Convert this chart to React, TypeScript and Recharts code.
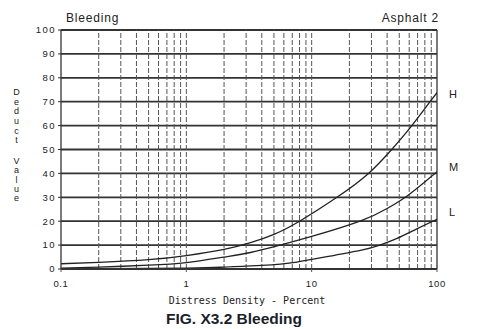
import React from 'react';
import { LineChart, Line, XAxis, YAxis, CartesianGrid, ReferenceLine } from 'recharts';

// Deduct value curves per severity level, density in percent (log axis)
const highCurve = [
  { x: 0.1, y: 2.2 },
  { x: 0.2, y: 2.8 },
  { x: 0.5, y: 3.9 },
  { x: 1, y: 5.6 },
  { x: 2, y: 8.2 },
  { x: 3.25, y: 11 },
  { x: 5, y: 14.5 },
  { x: 8, y: 20 },
  { x: 15.9, y: 30 },
  { x: 28.4, y: 40 },
  { x: 43.5, y: 50 },
  { x: 63, y: 60 },
  { x: 88, y: 70 },
  { x: 100, y: 73.8 },
];

const mediumCurve = [
  { x: 0.1, y: 0.4 },
  { x: 0.2, y: 0.8 },
  { x: 0.5, y: 1.6 },
  { x: 1, y: 2.7 },
  { x: 2, y: 5.0 },
  { x: 3.25, y: 6.9 },
  { x: 5.6, y: 10 },
  { x: 10, y: 13.6 },
  { x: 24.3, y: 20 },
  { x: 40, y: 25.3 },
  { x: 60, y: 31.2 },
  { x: 100, y: 40.7 },
];

const lowCurve = [
  { x: 0.1, y: 0.05 },
  { x: 1, y: 0.4 },
  { x: 2, y: 0.8 },
  { x: 4, y: 1.5 },
  { x: 7.6, y: 2.9 },
  { x: 14, y: 5.4 },
  { x: 25, y: 7.9 },
  { x: 35, y: 10 },
  { x: 48, y: 12.8 },
  { x: 69, y: 16.8 },
  { x: 100, y: 20.8 },
];

const xTicks = [0.1, 1, 10, 100];
const yTicks = [0, 10, 20, 30, 40, 50, 60, 70, 80, 90, 100];
// log-cycle rulings between the decades
const minorX = [
  0.2, 0.3, 0.4, 0.5, 0.6, 0.7, 0.8, 0.9, 1,
  2, 3, 4, 5, 6, 7, 8, 9, 10,
  20, 30, 40, 50, 60, 70, 80, 90,
];

const SANS = '"Liberation Sans", Arial, sans-serif';
const INK = '#222';

const series = [
  { name: 'H', data: highCurve, dy: 2 },
  { name: 'M', data: mediumCurve, dy: -4 },
  { name: 'L', data: lowCurve, dy: -6 },
];

// letter placed beside the last point of each curve
const endLabel = (name: string, count: number, dy: number) => (props: any) => {
  if (props.index !== count - 1) return null;
  return (
    <text x={props.x + 12} y={props.y + dy} dominantBaseline="middle" fontSize={11} fontFamily={SANS} fill={INK}>
      {name}
    </text>
  );
};

// stacked upright letters for the y axis title
const stacked = (top: number, spacing: number): React.CSSProperties => ({
  position: 'absolute',
  left: 11.5,
  top,
  writingMode: 'vertical-rl',
  textOrientation: 'upright',
  fontSize: 9,
  lineHeight: 1,
  letterSpacing: spacing,
  fontFamily: SANS,
  color: INK,
});

export default function App() {
  return (
    <div style={{ position: 'fixed', left: 0, top: 0, width: 493, height: 329, background: '#fff' }}>
      <LineChart width={493} height={329} data={highCurve} margin={{ top: 30, right: 56, bottom: 30, left: 0 }}>
        <CartesianGrid vertical={false} stroke="#333" strokeWidth={1.8} />
        {minorX.map((v) => (
          <ReferenceLine key={v} x={v} stroke="#555" strokeWidth={1} strokeDasharray="5 2" />
        ))}
        <ReferenceLine x={100} stroke="#333" strokeWidth={1.3} />
        <XAxis
          dataKey="x"
          type="number"
          scale="log"
          domain={[0.1, 100]}
          ticks={xTicks}
          allowDataOverflow
          height={30}
          tickSize={3}
          tickMargin={8}
          axisLine={{ stroke: '#333', strokeWidth: 1.8 }}
          tickLine={{ stroke: '#555' }}
          tick={{ fontSize: 9.5, fill: INK, fontFamily: SANS, letterSpacing: 0.6 }}
        />
        <YAxis
          type="number"
          domain={[0, 100]}
          ticks={yTicks}
          interval={0}
          width={61}
          tickSize={3}
          tickMargin={2}
          axisLine={{ stroke: '#333', strokeWidth: 1.3 }}
          tickLine={{ stroke: '#333' }}
          tick={{ fontSize: 9.5, fill: INK, fontFamily: SANS, letterSpacing: 1.5 }}
        />
        {series.map((s) => (
          <Line
            key={s.name}
            data={s.data}
            dataKey="y"
            type="natural"
            stroke={INK}
            strokeWidth={1.3}
            dot={false}
            isAnimationActive={false}
            label={endLabel(s.name, s.data.length, s.dy)}
          />
        ))}
      </LineChart>
      <div style={stacked(87.2, -0.34)}>Deduct</div>
      <div style={stacked(155.5, -0.75)}>Value</div>
      <svg width={493} height={329} style={{ position: 'absolute', left: 0, top: 0, pointerEvents: 'none' }}>
        <text x={66} y={21.5} fontSize={12} fontFamily={SANS} fill={INK} letterSpacing={0.8}>
          Bleeding
        </text>
        <text x={439} y={21.5} textAnchor="end" fontSize={12} fontFamily={SANS} fill={INK} letterSpacing={0.8}>
          Asphalt 2
        </text>
        <text x={247} y={303.5} textAnchor="middle" fontSize={10} fontFamily='"DejaVu Sans Mono", monospace' fill={INK}>
          Distress Density - Percent
        </text>
        <text x={234} y={324} textAnchor="middle" fontSize={15.5} fontWeight="bold" fontFamily={SANS} fill="#1a1f2b">
          FIG. X3.2 Bleeding
        </text>
      </svg>
    </div>
  );
}
